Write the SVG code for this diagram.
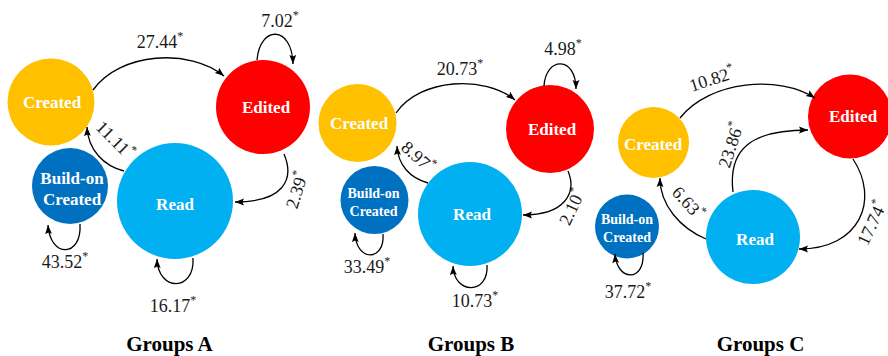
<svg xmlns="http://www.w3.org/2000/svg" width="888" height="356" viewBox="0 0 888 356">
  <defs>
    <marker id="arrow" markerUnits="userSpaceOnUse" markerWidth="10" markerHeight="8" refX="9" refY="4" orient="auto">
      <path d="M0,0.6 L9,4 L0,7.4 L1.6,4 Z" fill="#000"/>
    </marker>
    <style>
      .edge { fill: none; stroke: #000; stroke-width: 1.3; marker-end: url(#arrow); }
      .lbl { font-family: "Liberation Serif", "Times New Roman", serif; font-size: 18px; fill: #1a1a1a; text-anchor: middle; }
      .sup { font-size: 12px; }
      .node { font-family: "Liberation Serif", "Times New Roman", serif; font-weight: bold; fill: #fff; text-anchor: middle; }
      .big { font-size: 17px; }
      .small { font-size: 14px; }
      .title { font-family: "Liberation Serif", "Times New Roman", serif; font-weight: bold; font-size: 21px; fill: #000; text-anchor: middle; }
      .created { fill: #FFC000; }
      .edited { fill: #FF0000; }
      .read { fill: #00B0F0; }
      .build { fill: #0070C0; }
    </style>
  </defs>
  <rect width="888" height="356" fill="#fff"/>

  <!-- Group A -->
  <g id="a-created"><circle class="created" cx="51" cy="102" r="43.5"/><text class="node big" x="52" y="108">Created</text></g>
  <g id="a-edited"><circle class="edited" cx="263" cy="107" r="47"/><text class="node big" x="266" y="113">Edited</text></g>
  <g id="a-read"><circle class="read" cx="175" cy="201" r="58"/><text class="node big" x="175" y="210">Read</text></g>
  <g id="a-build"><circle class="build" cx="70" cy="186" r="38"/><text class="node big" x="72" y="184">Build-on</text><text class="node big" x="72" y="205">Created</text></g>

  <!-- Group B -->
  <g id="b-created"><circle class="created" cx="357.5" cy="123" r="39"/><text class="node big" x="359" y="129">Created</text></g>
  <g id="b-edited"><circle class="edited" cx="550" cy="129" r="44"/><text class="node big" x="552" y="135">Edited</text></g>
  <g id="b-read"><circle class="read" cx="470" cy="214" r="52"/><text class="node big" x="472" y="220">Read</text></g>
  <g id="b-build"><circle class="build" cx="374.5" cy="200" r="34"/><text class="node small" x="373.5" y="198">Build-on</text><text class="node small" x="373.5" y="216">Created</text></g>

  <!-- Group C -->
  <g id="c-created"><circle class="created" cx="653.5" cy="142.5" r="35.5"/><text class="node big" x="653" y="150">Created</text></g>
  <g id="c-edited"><circle class="edited" cx="850" cy="116.5" r="42"/><text class="node big" x="853" y="122">Edited</text></g>
  <g id="c-read"><circle class="read" cx="753" cy="237" r="47"/><text class="node big" x="755" y="245">Read</text></g>
  <g id="c-build"><circle class="build" cx="627" cy="226.5" r="32"/><text class="node small" x="627" y="224">Build-on</text><text class="node small" x="627" y="242">Created</text></g>

  <!-- transitions -->
  <g id="connectors">
    <path class="edge" d="M93,90 C120,52 190,48 224,76"/>
    <path class="edge" d="M257,60 C260,25 292,25 293,64"/>
    <path class="edge" d="M284,154 C295,180 283,202 235,202"/>
    <path class="edge" d="M124,171 C104,166 88,150 87,127"/>
    <path class="edge" d="M80,224 C82,258 50,258 48,225"/>
    <path class="edge" d="M193,258 C195,292 158,292 157,259"/>

    <path class="edge" d="M396,113 C420,78 485,75 515,100"/>
    <path class="edge" d="M544,86 C546,56 576,56 576,89"/>
    <path class="edge" d="M568,171 C577,193 565,215 523,215"/>
    <path class="edge" d="M428,183 C410,178 398,165 397,146"/>
    <path class="edge" d="M383,234 C385,262 356,262 355,233"/>
    <path class="edge" d="M487,265 C489,295 454,295 453,266"/>

    <path class="edge" d="M680,118 C710,80 780,75 815,98"/>
    <path class="edge" d="M733,192 C728,150 750,130 808,130"/>
    <path class="edge" d="M853,159 C880,200 860,249 799,249"/>
    <path class="edge" d="M706,239 C680,228 660,205 660,178"/>
    <path class="edge" d="M643,253 C645,282 617,282 615,254"/>
  </g>

  <!-- transition rates -->
  <g id="rates">
    <text class="lbl" x="160" y="48">27.44<tspan class="sup" dy="-8">*</tspan></text>
    <text class="lbl" x="280" y="27">7.02<tspan class="sup" dy="-8">*</tspan></text>
    <text class="lbl" transform="translate(115,140) rotate(45)" x="0" y="6">11.11<tspan class="sup" dy="-8">*</tspan></text>
    <text class="lbl" transform="translate(297,190) rotate(-72)" x="0" y="6">2.39<tspan class="sup" dy="-8">*</tspan></text>
    <text class="lbl" x="65" y="268">43.52<tspan class="sup" dy="-8">*</tspan></text>
    <text class="lbl" x="173" y="312">16.17<tspan class="sup" dy="-8">*</tspan></text>

    <text class="lbl" x="460" y="75">20.73<tspan class="sup" dy="-8">*</tspan></text>
    <text class="lbl" x="563" y="55">4.98<tspan class="sup" dy="-8">*</tspan></text>
    <text class="lbl" transform="translate(418,157) rotate(42)" x="0" y="6">8.97<tspan class="sup" dy="-8">*</tspan></text>
    <text class="lbl" transform="translate(572,207) rotate(-65)" x="0" y="6">2.10<tspan class="sup" dy="-8">*</tspan></text>
    <text class="lbl" x="367" y="273">33.49<tspan class="sup" dy="-8">*</tspan></text>
    <text class="lbl" x="475" y="307">10.73<tspan class="sup" dy="-8">*</tspan></text>

    <text class="lbl" transform="translate(712,79) rotate(-18)" x="0" y="6">10.82<tspan class="sup" dy="-8">*</tspan></text>
    <text class="lbl" transform="translate(731,145) rotate(-72)" x="0" y="6">23.86<tspan class="sup" dy="-8">*</tspan></text>
    <text class="lbl" transform="translate(688,203) rotate(48)" x="0" y="6">6.63<tspan class="sup" dy="-8">*</tspan></text>
    <text class="lbl" transform="translate(872,223) rotate(-65)" x="0" y="6">17.74<tspan class="sup" dy="-8">*</tspan></text>
    <text class="lbl" x="628" y="298">37.72<tspan class="sup" dy="-8">*</tspan></text>
  </g>

  <!-- panel captions -->
  <text class="title" x="169.5" y="351">Groups A</text>
  <text class="title" x="471" y="351">Groups B</text>
  <text class="title" x="760.5" y="351">Groups C</text>
</svg>
